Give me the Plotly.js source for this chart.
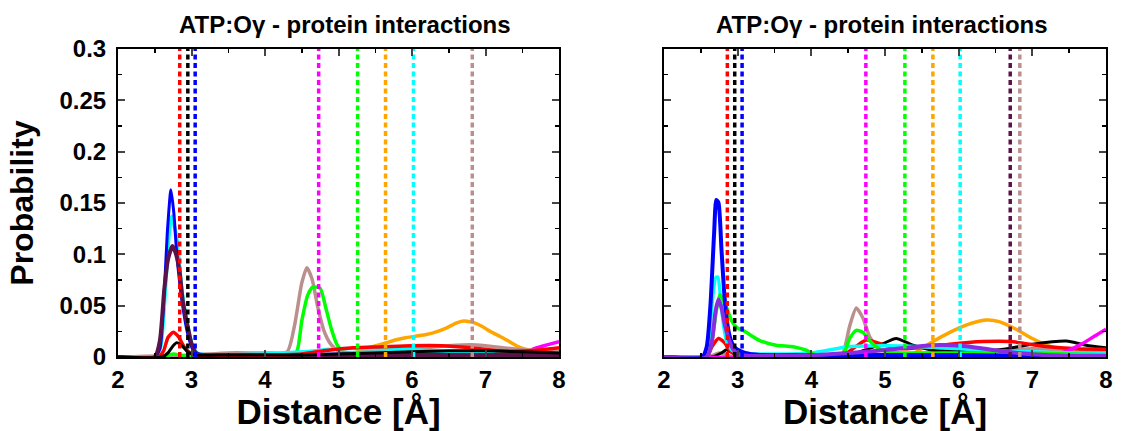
<!DOCTYPE html>
<html>
<head>
<meta charset="utf-8">
<script src="https://cdn.plot.ly/plotly-3.0.1.min.js"></script>
<style>html,body{margin:0;padding:0;background:#fff;}#chart{width:1124px;height:431px;}</style>
</head>
<body>
<div id="chart"></div>
<script>
// ---------- DATA ----------
const panelTitle = "ATP:O\u03b3 - protein interactions";
const xTitle = "Distance [\u00c5]";
const yTitle = "Probability";

// vertical reference (dashed) lines: positions & colours
const leftRefX   = [2.84, 2.95, 3.05, 4.73, 5.26, 5.64, 6.02, 6.82];
const leftRefCol = ["#ff0000", "#000000", "#0000ff", "#ff00ff", "#00ff00", "#ffa500", "#00ffff", "#bc8f8f"];
const rightRefX   = [2.86, 2.96, 3.06, 4.74, 5.27, 5.65, 6.02, 6.70, 6.83];
const rightRefCol = ["#ff0000", "#000000", "#0000ff", "#ff00ff", "#00ff00", "#ffa500", "#00ffff", "#5b1248", "#bc8f8f"];

// ---- left panel curves ----
const lOrangeX = [2.0, 5.0, 5.1, 5.25, 5.4, 5.61, 5.8, 5.93, 6.18, 6.35, 6.48, 6.6, 6.7, 6.84, 6.95, 7.07, 7.2, 7.3, 7.42, 7.52, 7.66, 7.8, 8.0];
const lOrangeY = [0.0, 0.0, 0.001, 0.005, 0.009, 0.013, 0.017, 0.019, 0.0217, 0.025, 0.0286, 0.033, 0.035, 0.0335, 0.030, 0.0247, 0.020, 0.016, 0.011, 0.008, 0.006, 0.005, 0.004];
const lMagentaX = [2.0, 7.0, 7.4, 7.55, 7.7, 7.85, 8.0];
const lMagentaY = [0.0, 0.0, 0.002, 0.005, 0.009, 0.012, 0.015];
const lBlackX = [2.0, 2.6, 2.68, 2.75, 2.8, 2.87, 2.95, 3.05, 3.5, 4.5, 5.5, 6.5, 7.0, 7.5, 8.0];
const lBlackY = [0.0, 0.0, 0.004, 0.011, 0.014, 0.011, 0.005, 0.002, 0.002, 0.002, 0.004, 0.006, 0.006, 0.005, 0.004];
const lRedX = [2.0, 2.55, 2.62, 2.68, 2.75, 2.82, 2.9, 2.98, 3.05, 3.3, 4.0, 4.5, 4.8, 5.2, 5.6, 6.0, 6.4, 6.8, 7.2, 7.6, 8.0];
const lRedY = [0.0, 0.0, 0.006, 0.019, 0.024, 0.02, 0.01, 0.004, 0.002, 0.002, 0.002, 0.003, 0.006, 0.009, 0.010, 0.011, 0.011, 0.009, 0.006, 0.006, 0.009];
const lGreenX = [2.0, 2.6, 2.75, 2.9, 3.2, 4.3, 4.43, 4.5, 4.58, 4.65, 4.75, 4.82, 4.9, 4.98, 5.06, 5.15, 5.5, 6.0, 6.5, 7.0, 7.5, 8.0];
const lGreenY = [0.0, 0.0, 0.003, 0.001, 0.001, 0.001, 0.005, 0.035, 0.06, 0.068, 0.067, 0.05, 0.028, 0.012, 0.005, 0.003, 0.003, 0.004, 0.004, 0.005, 0.003, 0.002];
const lBrownX = [2.0, 3.0, 3.5, 4.0, 4.3, 4.4, 4.5, 4.57, 4.64, 4.72, 4.8, 4.9, 5.0, 5.2, 5.5, 6.0, 6.5, 6.8, 7.0, 7.5, 8.0];
const lBrownY = [0.0, 0.002, 0.004, 0.004, 0.005, 0.03, 0.072, 0.087, 0.076, 0.048, 0.026, 0.012, 0.006, 0.004, 0.006, 0.008, 0.011, 0.012, 0.011, 0.007, 0.006];
const lCyanX = [2.0, 2.5, 2.58, 2.64, 2.69, 2.73, 2.8, 2.87, 2.95, 3.02, 3.1, 3.3, 4.0, 4.5, 5.0, 5.5, 6.0, 6.5, 7.0, 7.5, 8.0];
const lCyanY = [0.0, 0.0, 0.01, 0.06, 0.115, 0.137, 0.115, 0.065, 0.03, 0.01, 0.003, 0.002, 0.003, 0.005, 0.008, 0.008, 0.007, 0.005, 0.004, 0.003, 0.002];
const lBlueX = [2.0, 2.5, 2.57, 2.62, 2.67, 2.72, 2.76, 2.8, 2.87, 2.95, 3.02, 3.1, 3.3, 4.0, 5.0, 6.0, 7.0, 8.0];
const lBlueY = [0.0, 0.0, 0.008, 0.05, 0.12, 0.163, 0.14, 0.1, 0.055, 0.022, 0.007, 0.003, 0.002, 0.002, 0.003, 0.003, 0.002, 0.001];
const lMaroonX = [2.0, 2.5, 2.57, 2.63, 2.68, 2.74, 2.79, 2.84, 2.88, 2.95, 3.0, 3.07, 3.2, 4.0, 5.0, 6.0, 7.0, 8.0];
const lMaroonY = [0.0, 0.0, 0.016, 0.066, 0.095, 0.108, 0.1, 0.082, 0.055, 0.029, 0.013, 0.003, 0.001, 0.0, 0.001, 0.002, 0.002, 0.002];

// ---- right panel curves ----
const rOrangeX = [2.0, 5.0, 5.2, 5.38, 5.6, 5.88, 6.1, 6.37, 6.55, 6.78, 7.0, 7.23, 7.46, 7.68, 8.0];
const rOrangeY = [0.0, 0.0, 0.001, 0.003, 0.013, 0.024, 0.031, 0.036, 0.0345, 0.027, 0.018, 0.0105, 0.0066, 0.005, 0.004];
const rBrownX = [2.0, 2.6, 2.75, 2.9, 3.5, 4.35, 4.43, 4.52, 4.61, 4.7, 4.79, 4.92, 5.1, 5.5, 6.0, 6.5, 7.0, 7.5, 8.0];
const rBrownY = [0.0, 0.0, 0.004, 0.001, 0.001, 0.001, 0.004, 0.03, 0.0477, 0.038, 0.02, 0.008, 0.004, 0.004, 0.005, 0.006, 0.008, 0.007, 0.006];
const rBlackX = [2.0, 2.65, 2.78, 2.85, 2.93, 3.05, 3.5, 4.5, 4.97, 5.15, 5.38, 5.65, 6.1, 6.55, 7.0, 7.46, 7.73, 8.0];
const rBlackY = [0.0, 0.0, 0.004, 0.007, 0.004, 0.001, 0.001, 0.002, 0.013, 0.018, 0.0115, 0.0066, 0.006, 0.007, 0.0125, 0.0155, 0.0115, 0.009];
const rRedX = [2.0, 2.58, 2.65, 2.74, 2.82, 2.9, 2.98, 3.2, 4.0, 4.43, 4.6, 4.75, 4.97, 5.24, 5.6, 5.88, 6.33, 6.7, 7.15, 7.6, 8.0];
const rRedY = [0.0, 0.0, 0.01, 0.018, 0.014, 0.006, 0.002, 0.001, 0.001, 0.002, 0.01, 0.0165, 0.012, 0.008, 0.01, 0.0125, 0.015, 0.015, 0.0105, 0.008, 0.0076];
const rMagentaX = [2.0, 7.3, 7.5, 7.68, 7.86, 8.0];
const rMagentaY = [0.0, 0.002, 0.0066, 0.013, 0.021, 0.027];
const rCyanX = [2.0, 2.55, 2.6, 2.65, 2.7, 2.73, 2.77, 2.81, 2.86, 2.92, 3.0, 3.2, 3.6, 4.0, 4.5, 5.0, 5.5, 6.0, 6.5, 7.0, 7.5, 8.0];
const rCyanY = [0.0, 0.0, 0.01, 0.05, 0.077, 0.078, 0.056, 0.03, 0.013, 0.007, 0.004, 0.003, 0.003, 0.004, 0.01, 0.011, 0.01, 0.008, 0.006, 0.005, 0.004, 0.003];
const rGreenX = [2.0, 2.58, 2.65, 2.7, 2.76, 2.84, 2.92, 3.0, 3.07, 3.3, 3.52, 3.75, 3.93, 4.02, 4.43, 4.52, 4.61, 4.7, 4.79, 4.92, 5.2, 6.0, 7.0, 8.0];
const rGreenY = [0.0, 0.0, 0.015, 0.04, 0.061, 0.05, 0.035, 0.028, 0.026, 0.016, 0.0115, 0.01, 0.0066, 0.003, 0.003, 0.018, 0.026, 0.024, 0.016, 0.008, 0.004, 0.004, 0.004, 0.002];
const rPurpleX = [2.0, 2.58, 2.65, 2.7, 2.74, 2.78, 2.83, 2.92, 3.0, 3.2, 4.07, 4.97, 5.65, 6.1, 6.55, 7.0, 7.5, 8.0];
const rPurpleY = [0.0, 0.0, 0.015, 0.045, 0.056, 0.048, 0.03, 0.01, 0.003, 0.001, 0.002, 0.0066, 0.0115, 0.0105, 0.006, 0.0026, 0.001, 0.001];
const rBlueX = [2.0, 2.52, 2.58, 2.63, 2.68, 2.71, 2.74, 2.78, 2.82, 2.86, 2.9, 2.95, 3.0, 3.1, 3.3, 4.0, 5.0, 6.0, 7.0, 8.0];
const rBlueY = [0.0, 0.0, 0.01, 0.05, 0.12, 0.153, 0.15, 0.105, 0.06, 0.032, 0.018, 0.01, 0.007, 0.004, 0.002, 0.002, 0.002, 0.002, 0.001, 0.001];

// ---------- BUILD ----------
function curve(x, y, color, axis, width) {
  return {x: x, y: y, type: 'scatter', mode: 'lines', xaxis: 'x' + axis, yaxis: 'y' + axis,
          line: {color: color, width: width || 3, shape: 'spline', smoothing: 0.6}, hoverinfo: 'skip', showlegend: false};
}
function refLine(xv, color, axis) {
  return {x: [xv, xv], y: [0, 0.3], type: 'scatter', mode: 'lines', xaxis: 'x' + axis, yaxis: 'y' + axis,
          line: {color: color, width: 3.5, dash: '5px,3.5px'}, hoverinfo: 'skip', showlegend: false};
}

const traces = [
  curve(lOrangeX, lOrangeY, '#ffa500', '', 3.5),
  curve(lMagentaX, lMagentaY, '#ff00ff', '', 3.5),
  curve(lBrownX, lBrownY, '#bc8f8f', '', 3.5),
  curve(lGreenX, lGreenY, '#00ff00', '', 3.5),
  curve(lCyanX, lCyanY, '#00ffff', '', 3.5),
  curve(lBlueX, lBlueY, '#0000ff', '', 3),
  curve(lMaroonX, lMaroonY, '#5b1248', '', 4),
  curve(lRedX, lRedY, '#ff0000', '', 3.5),
  curve(lBlackX, lBlackY, '#000000', '', 3),

  curve(rOrangeX, rOrangeY, '#ffa500', '2', 3.5),
  curve(rBrownX, rBrownY, '#bc8f8f', '2', 3.5),
  curve(rBlackX, rBlackY, '#000000', '2', 3),
  curve(rRedX, rRedY, '#ff0000', '2', 3.5),
  curve(rMagentaX, rMagentaY, '#ff00ff', '2', 3.5),
  curve(rCyanX, rCyanY, '#00ffff', '2', 3.5),
  curve(rGreenX, rGreenY, '#00ff00', '2', 3.5),
  curve(rBlueX, rBlueY, '#0000ff', '2', 4),
  curve(rPurpleX, rPurpleY, '#8a2be2', '2', 4)
];
leftRefX.forEach((v, i) => traces.push(refLine(v, leftRefCol[i], '')));
rightRefX.forEach((v, i) => traces.push(refLine(v, rightRefCol[i], '2')));

const FONT = 'Liberation Sans, Arial, Helvetica, sans-serif';
function xAxis(domain, anchor) {
  return {domain: domain, anchor: anchor, range: [2, 8], tick0: 2, dtick: 1, ticks: 'inside', ticklen: 7, tickwidth: 2,
          showline: true, linewidth: 2, linecolor: '#000', mirror: 'ticks', showgrid: false, zeroline: false,
          minor: {dtick: 0.5, ticks: 'inside', ticklen: 4, tickwidth: 1.5, tickcolor: '#000', showgrid: false},
          tickfont: {family: FONT, size: 24, color: '#000', weight: 'bold'},
          title: {text: xTitle, font: {family: FONT, size: 35, color: '#000', weight: 'bold'}, standoff: 9}};
}
function yAxis(domain, anchor, labels) {
  const a = {domain: domain, anchor: anchor, range: [0, 0.3], tick0: 0, dtick: 0.05, ticks: 'inside', ticklen: 7, tickwidth: 2,
          showline: true, linewidth: 2, linecolor: '#000', mirror: 'ticks', showgrid: false, zeroline: false,
          showticklabels: labels, ticklabelstandoff: 5,
          minor: {dtick: 0.025, ticks: 'inside', ticklen: 4, tickwidth: 1.5, tickcolor: '#000', showgrid: false},
          tickfont: {family: FONT, size: 24, color: '#000', weight: 'bold'}};
  if (labels) a.title = {text: yTitle, font: {family: FONT, size: 32, color: '#000', weight: 'bold'}, standoff: 16};
  return a;
}
const yDom = [1 - 357 / 431, 1 - 49 / 431];
const layout = {
  width: 1124, height: 431, margin: {l: 0, r: 0, t: 0, b: 0},
  paper_bgcolor: '#fff', plot_bgcolor: '#fff', showlegend: false,
  font: {family: FONT, color: '#000'},
  xaxis: xAxis([118 / 1124, 559 / 1124], 'y'),
  yaxis: yAxis(yDom, 'x', true),
  xaxis2: xAxis([664 / 1124, 1106 / 1124], 'y2'),
  yaxis2: yAxis(yDom, 'x2', false),
  annotations: [
    {text: panelTitle, xref: 'paper', yref: 'paper', x: 345 / 1124, y: 1 - 24 / 431, xanchor: 'center', yanchor: 'middle',
     showarrow: false, font: {family: FONT, size: 24, color: '#000', weight: 'bold'}},
    {text: panelTitle, xref: 'paper', yref: 'paper', x: 882 / 1124, y: 1 - 24 / 431, xanchor: 'center', yanchor: 'middle',
     showarrow: false, font: {family: FONT, size: 24, color: '#000', weight: 'bold'}}
  ]
};
Plotly.newPlot('chart', traces, layout, {staticPlot: true, displayModeBar: false});
</script>
</body>
</html>
